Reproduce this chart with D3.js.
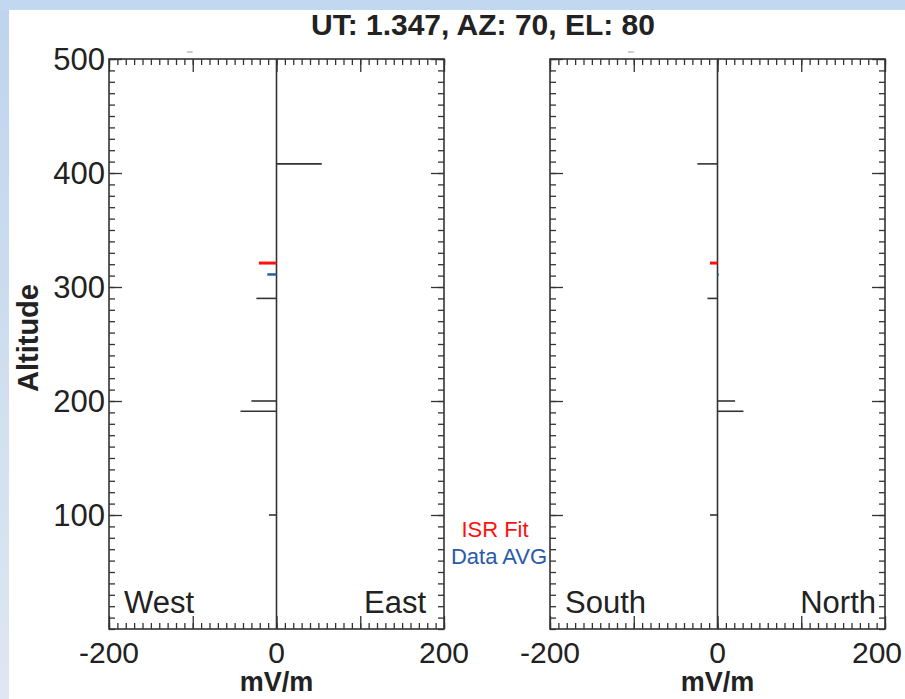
<!DOCTYPE html>
<html>
<head>
<meta charset="utf-8">
<script src="https://cdn.jsdelivr.net/npm/d3@7"></script>
<style>
  body { margin: 0; background: #fff; }
  svg { display: block; font-family: "Liberation Sans", Arial, sans-serif; }
</style>
</head>
<body>
<div id="chart"></div>
<script>
// profile data
const altitudes = [408, 290, 200, 191, 100];
const westEast = [54, -24, -30, -43, -9];
const southNorth = [-24, -12, 21, 31, -9];

const isrAlt = [321];
const isrWE = [-21];
const isrSN = [-9];

const avgAlt = [311];
const avgWE = [-11];
const avgSN = [1.5];

const xTicks = [-200, 0, 200];
const yTicks = [100, 200, 300, 400, 500];

const width = 905;
const height = 699;
const ink = "#333";

const svg = d3.select("#chart")
    .append("svg")
    .attr("width", width)
    .attr("height", height);

// light blue frame around the page
const grad = svg.append("defs").append("linearGradient")
    .attr("id", "frame").attr("x1", 0).attr("y1", 0).attr("x2", 0).attr("y2", 1);
grad.append("stop").attr("offset", "0%").attr("stop-color", "#bed4ee");
grad.append("stop").attr("offset", "100%").attr("stop-color", "#dfe7f0");
svg.append("rect").attr("width", width).attr("height", height).attr("fill", "url(#frame)");
svg.append("rect").attr("x", 0).attr("y", 0).attr("width", width).attr("height", 10).attr("fill", "#c2d7f0");
svg.append("rect").attr("x", 9).attr("y", 10).attr("width", width - 9).attr("height", height - 10).attr("fill", "#fff");

svg.append("text")
    .attr("x", 483).attr("y", 35)
    .attr("text-anchor", "middle")
    .attr("font-size", 30).attr("font-weight", "bold").attr("fill", "#222")
    .text("UT: 1.347, AZ: 70, EL: 80");

const plotTop = 59, plotBottom = 629;
const y = d3.scaleLinear().domain([0, 500]).range([plotBottom, plotTop]);

function panel(left, right, values, isr, avg, labels, rightPad, showY) {
    const x = d3.scaleLinear().domain([-200, 200]).range([left, right]);
    const g = svg.append("g");

    // axes with major + minor ticks (mirrored on all four sides)
    const minorX = d3.range(-200, 201, 10);
    const minorY = d3.range(0, 501, 10);
    [[d3.axisBottom(x), `translate(0,${plotBottom})`], [d3.axisTop(x), `translate(0,${plotTop})`]].forEach(([ax, tr]) => {
        g.append("g").attr("transform", tr)
            .call(ax.tickValues(minorX).tickSize(-6).tickFormat(""))
            .call(s => s.select(".domain").remove());
        g.append("g").attr("transform", tr)
            .call(ax.tickValues([-200, -100, 0, 100, 200]).tickSize(-13).tickFormat(""))
            .call(s => s.select(".domain").remove());
    });
    [[d3.axisLeft(y), `translate(${left},0)`], [d3.axisRight(y), `translate(${right},0)`]].forEach(([ax, tr]) => {
        g.append("g").attr("transform", tr)
            .call(ax.tickValues(minorY).tickSize(-6).tickFormat(""))
            .call(s => s.select(".domain").remove());
        g.append("g").attr("transform", tr)
            .call(ax.tickValues(yTicks).tickSize(-13).tickFormat(""))
            .call(s => s.select(".domain").remove());
    });
    g.selectAll(".tick line").attr("stroke", ink).attr("stroke-width", 1.3);

    g.append("rect")
        .attr("x", left).attr("y", plotTop)
        .attr("width", right - left).attr("height", plotBottom - plotTop)
        .attr("fill", "none").attr("stroke", ink).attr("stroke-width", 1.6);

    // zero line
    g.append("line")
        .attr("x1", x(0)).attr("x2", x(0))
        .attr("y1", plotTop).attr("y2", plotBottom)
        .attr("stroke", ink).attr("stroke-width", 1.6);

    // small gray mark above the frame
    g.append("line")
        .attr("x1", x(-107)).attr("x2", x(-100)).attr("y1", 52).attr("y2", 52)
        .attr("stroke", "#aaa").attr("stroke-width", 1.2);

    g.selectAll(".bar")
        .data(altitudes)
        .join("line")
        .attr("class", "bar")
        .attr("x1", x(0))
        .attr("x2", (d, i) => x(values[i]))
        .attr("y1", d => y(d)).attr("y2", d => y(d))
        .attr("stroke", ink).attr("stroke-width", 1.6);

    g.selectAll(".isr")
        .data(isrAlt)
        .join("line")
        .attr("class", "isr")
        .attr("x1", x(0)).attr("x2", (d, i) => x(isr[i]))
        .attr("y1", d => y(d)).attr("y2", d => y(d))
        .attr("stroke", "#ff1010").attr("stroke-width", 3);

    g.selectAll(".avg")
        .data(avgAlt)
        .join("line")
        .attr("class", "avg")
        .attr("x1", x(0)).attr("x2", (d, i) => x(avg[i]))
        .attr("y1", d => y(d)).attr("y2", d => y(d))
        .attr("stroke", "#2a5aa8").attr("stroke-width", 2.5);

    // tick labels (kept inside the page at the right edge)
    g.selectAll(".xl")
        .data(xTicks)
        .join("text")
        .attr("x", d => Math.min(x(d), width - 28)).attr("y", 663)
        .attr("text-anchor", "middle")
        .attr("font-size", 30).attr("fill", "#222")
        .text(d => d);

    g.append("text")
        .attr("x", x(0)).attr("y", 691)
        .attr("text-anchor", "middle")
        .attr("font-size", 27).attr("font-weight", "bold").attr("fill", "#222")
        .text("mV/m");

    if (showY) {
        g.selectAll(".yl")
            .data(yTicks)
            .join("text")
            .attr("x", left - 4).attr("y", d => y(d) + 11)
            .attr("text-anchor", "end")
            .attr("font-size", 31).attr("fill", "#222")
            .text(d => d);
        g.append("text")
            .attr("transform", "translate(38,338) rotate(-90)")
            .attr("text-anchor", "middle")
            .attr("font-size", 29).attr("font-weight", "bold").attr("fill", "#222")
            .text("Altitude");
    }

    g.append("text")
        .attr("x", left + 15).attr("y", 613)
        .attr("font-size", 31).attr("fill", "#222")
        .text(labels[0]);
    g.append("text")
        .attr("x", right - rightPad).attr("y", 613)
        .attr("text-anchor", "end")
        .attr("font-size", 31).attr("fill", "#222")
        .text(labels[1]);
}

panel(109, 444, westEast, isrWE, avgWE, ["West", "East"], 18, true);
panel(550, 885, southNorth, isrSN, avgSN, ["South", "North"], 9, false);

// legend
svg.append("text")
    .attr("x", 495).attr("y", 537)
    .attr("text-anchor", "middle")
    .attr("font-size", 22).attr("fill", "#ff1010")
    .text("ISR Fit");
svg.append("text")
    .attr("x", 499).attr("y", 564)
    .attr("text-anchor", "middle")
    .attr("font-size", 22).attr("fill", "#2a5aa8")
    .text("Data AVG");
</script>
</body>
</html>
